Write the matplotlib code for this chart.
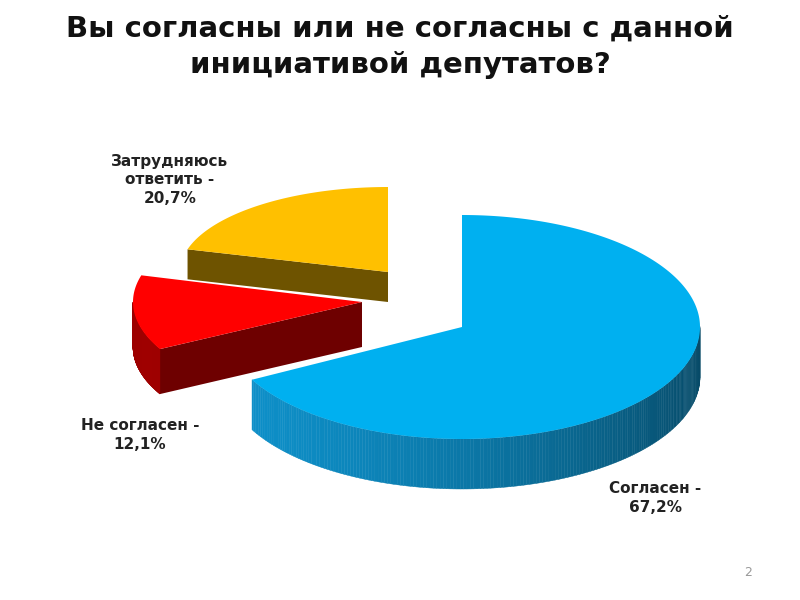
import numpy as np
import matplotlib
matplotlib.use("Agg")
import matplotlib.pyplot as plt
from matplotlib.patches import Polygon
from matplotlib.colors import to_rgb

labels = ["Согласен -\n67,2%", "Не согласен -\n12,1%", "Затрудняюсь\nответить -\n20,7%"]
values = [67.2, 12.1, 20.7]
top_colors = ["#00B0F0", "#FF0000", "#FFC000"]
side_colors = ["#0A6E9A", "#7A0000", "#7A5C00"]
centers = [(462, 327), (362, 302), (388, 272)]
radii = [(238, 112), (229, 100), (208, 85)]
depths = [50, 45, 30]
label_pos = [(655, 498), (140, 435), (170, 180)]

fig = plt.figure(figsize=(8, 6), dpi=100)
ax = fig.add_axes([0, 0, 1, 1])
ax.set_xlim(0, 800); ax.set_ylim(600, 0); ax.axis("off")

fr = np.array(values) / sum(values) * 360
ends = 90 - np.cumsum(fr)
wedges = [((ends[i] % 360), (ends[i] % 360) + fr[i]) for i in range(3)]

for i in [2, 1, 0]:
    a, b = wedges[i]
    cx, cy = centers[i]; rx, ry = radii[i]; dep = depths[i]
    def pt(t):
        return cx + rx*np.cos(np.radians(t)), cy - ry*np.sin(np.radians(t))
    sc = np.array(to_rgb(side_colors[i])); tc = np.array(to_rgb(top_colors[i]))
    for ang, vis in [(a, np.cos(np.radians(a)) > 0), (b, np.cos(np.radians(b)) < 0)]:
        if vis:
            ex, ey = pt(ang)
            ax.add_patch(Polygon([(cx, cy), (ex, ey), (ex, ey+dep), (cx, cy+dep)],
                                 closed=True, fc=sc*0.9, ec="none"))
    ts = np.linspace(a, b, 300)
    for t1, t2 in zip(ts[:-1], ts[1:]):
        tm = (t1+t2)/2
        if np.sin(np.radians(tm)) < 0:
            f = 0.75 + 0.25*np.cos(np.radians(tm - 200))
            col = np.clip(sc*f*1.3, 0, 1)
            p1 = pt(t1); p2 = pt(t2)
            ax.add_patch(Polygon([p1, p2, (p2[0], p2[1]+dep), (p1[0], p1[1]+dep)],
                                 closed=True, fc=col, ec=col, lw=0.3))
    arc = [pt(t) for t in ts]
    ax.add_patch(Polygon([(cx, cy)] + arc, closed=True, fc=tc, ec="none"))

for lab, (x, y) in zip(labels, label_pos):
    ax.text(x, y, lab, ha="center", va="center", fontsize=11, fontweight="bold",
            color="#222222", linespacing=1.3)

ax.text(400, 47, "Вы согласны или не согласны с данной\nинициативой депутатов?",
        ha="center", va="center", fontsize=21, fontweight="bold", color="#111111",
        linespacing=1.4)
ax.text(748, 572, "2", fontsize=9, color="#999999", ha="center", va="center")
fig.savefig("out.png", dpi=100, facecolor="white")
